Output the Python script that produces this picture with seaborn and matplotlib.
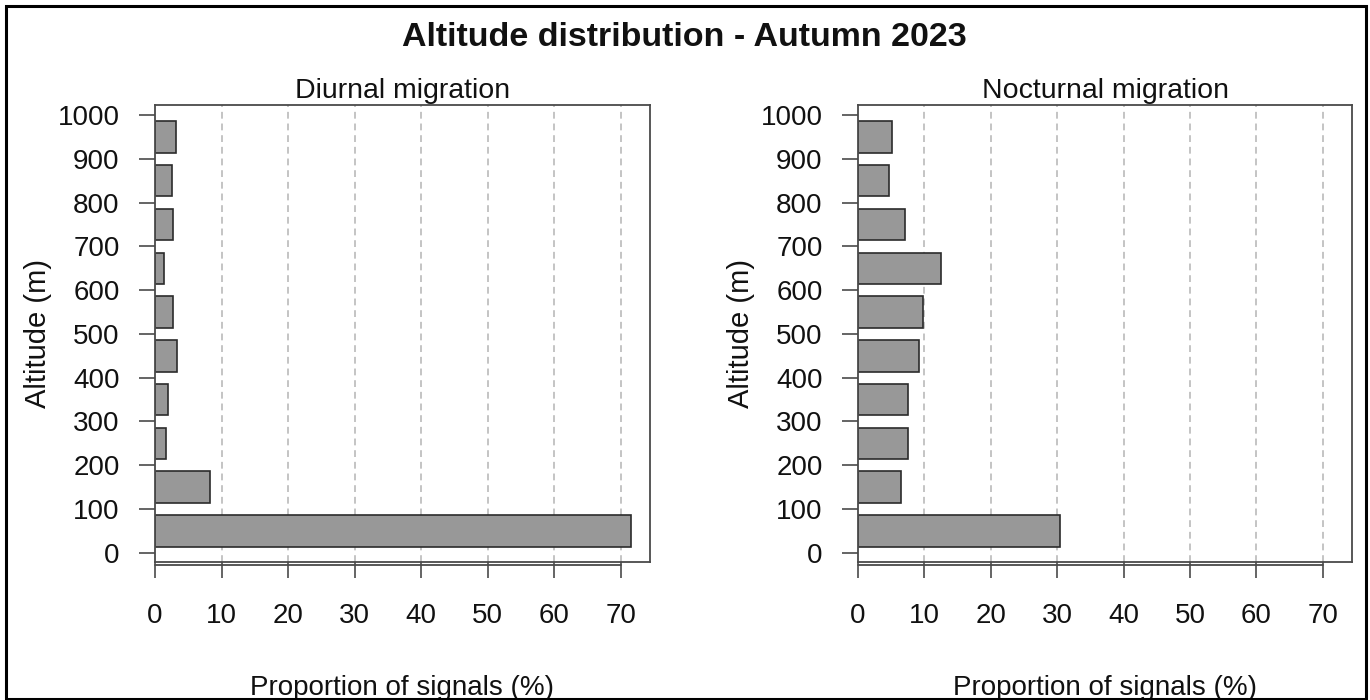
import matplotlib
matplotlib.use("Agg")
import matplotlib.pyplot as plt
from matplotlib.patches import Rectangle
import matplotlib.transforms as mtransforms
import numpy as np
import pandas as pd
import seaborn as sns

# Altitude bins (lower edge, m) and share of radar signals per bin (%)
altitude_bins = [0, 100, 200, 300, 400, 500, 600, 700, 800, 900]
diurnal_pct = [71.6, 8.3, 1.6, 1.9, 3.3, 2.7, 1.4, 2.7, 2.6, 3.2]
nocturnal_pct = [30.4, 6.5, 7.5, 7.5, 9.2, 9.8, 12.5, 7.1, 4.7, 5.1]

panel_titles = ["Diurnal migration", "Nocturnal migration"]
main_title = "Altitude distribution - Autumn 2023"
x_label = "Proportion of signals (%)"
y_label = "Altitude (m)"
x_ticks = [0, 10, 20, 30, 40, 50, 60, 70]
y_ticks = [0, 100, 200, 300, 400, 500, 600, 700, 800, 900, 1000]

sns.set_theme(style="white")
plt.rcParams["font.family"] = ["Liberation Sans", "DejaVu Sans"]

W, H = 1370, 700
fig = plt.figure(figsize=(W / 100, H / 100), dpi=100)
fig.patch.set_facecolor("white")

def frac_box(x0, y0, x1, y1):
    return [x0 / W, 1 - y1 / H, (x1 - x0) / W, (y1 - y0) / H]

positions = [frac_box(155, 105, 650, 562), frac_box(858, 105, 1352, 562)]
series = [diurnal_pct, nocturnal_pct]

edge_dark = "#2b2b2b"
box_col = "#4a4a4a"
fs = 20

for pos, vals, title in zip(positions, series, panel_titles):
    ax = fig.add_axes(pos)
    df = pd.DataFrame({
        "altitude": np.array(altitude_bins) + 50,
        "share": vals,
    })
    # dashed reference lines behind the bars
    for xv in x_ticks[1:]:
        ax.axvline(xv, color="#c4c4c4", lw=1.4, ls=(0, (3.5, 2.5)), zorder=0)
    sns.barplot(data=df, x="share", y="altitude", orient="h",
                native_scale=True, width=0.72, color="#989898",
                saturation=1, edgecolor=edge_dark, linewidth=1.2,
                ax=ax, zorder=2)
    ax.set_xlim(0, 74.4)
    ax.set_ylim(-21, 1023)
    ax.set_xticks(x_ticks)
    ax.set_yticks(y_ticks)
    ax.set_xticklabels([str(t) for t in x_ticks], fontsize=fs)
    ax.set_yticklabels([str(t) for t in y_ticks], fontsize=fs)
    ax.tick_params(axis="x", direction="out", length=11.5, width=1.2,
                   color=box_col, pad=18, bottom=True, labelcolor="#111111")
    ax.tick_params(axis="y", direction="out", length=11.5, width=1.2,
                   color=box_col, pad=14, left=True, labelcolor="#111111")
    for sp in ax.spines.values():
        sp.set_visible(True)
        sp.set_color(box_col)
        sp.set_linewidth(1.3)
    # x axis line running from first to last tick, just below the box
    trans = mtransforms.blended_transform_factory(ax.transData, ax.transAxes)
    ax.plot([x_ticks[0], x_ticks[-1]], [-0.007, -0.007], transform=trans,
            color=box_col, lw=1.3, clip_on=False, zorder=3)
    ax.set_title(title, fontsize=20.5, pad=5, color="#111111")
    ax.set_xlabel(x_label, fontsize=fs, labelpad=33, color="#111111")
    ax.set_ylabel(y_label, fontsize=21, labelpad=4, color="#111111")
    ax.grid(False)

fig.text(684 / W, 1 - 38 / H, main_title, ha="center", va="center",
         fontsize=24.5, fontweight="bold", color="#111111")

# outer frame
fig.patches.append(Rectangle((6 / W, 1 - 699 / H), 1360 / W, 693 / H,
                             transform=fig.transFigure, fill=False,
                             edgecolor="black", lw=2.2, zorder=10))

fig.savefig("out.png", dpi=100)
